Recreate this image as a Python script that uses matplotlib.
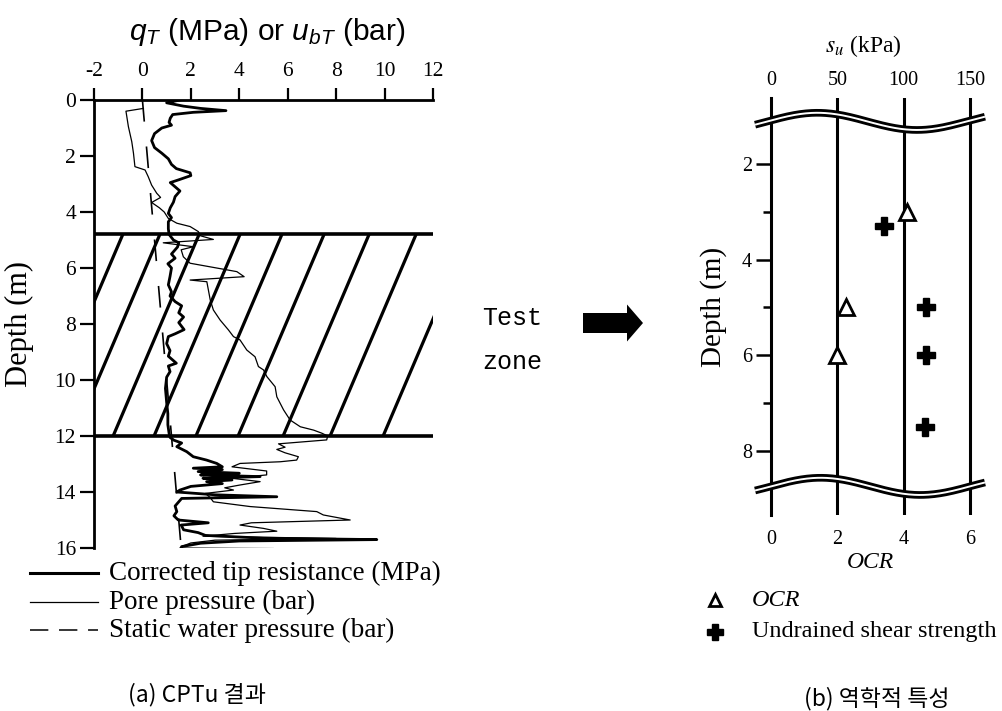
import numpy as np
import matplotlib
matplotlib.use("Agg")
import matplotlib.pyplot as plt
from matplotlib.lines import Line2D
from matplotlib.patches import Rectangle, FancyArrow

plt.rcParams['font.family'] = ['Liberation Serif', 'DejaVu Sans']
plt.rcParams['axes.unicode_minus'] = False
plt.rcParams['mathtext.fontset'] = 'custom'
plt.rcParams['mathtext.rm'] = 'Liberation Sans'
plt.rcParams['mathtext.it'] = 'Liberation Sans:italic'
plt.rcParams['mathtext.bf'] = 'Liberation Sans:bold'

# ---------------- CPTu profile ----------------
qt_depth = [0.00, 0.10, 0.22, 0.30, 0.38, 0.44, 0.52, 0.65, 0.80, 0.90,
            1.00, 1.20, 1.45, 1.70, 1.90, 2.10, 2.30, 2.45, 2.60, 2.70,
            2.85, 2.95, 3.10, 3.25, 3.45, 3.65, 3.85, 4.05, 4.20, 4.35,
            4.60, 4.80, 5.00, 5.10, 5.25, 5.50, 5.65, 5.85, 6.00, 6.30,
            6.60, 6.85, 7.00, 7.20, 7.35, 7.60, 7.75, 7.95, 8.20, 8.35,
            8.45, 8.70, 8.95, 9.15, 9.40, 9.50, 9.70, 9.90, 10.30, 10.80,
            11.20, 11.60, 11.90, 12.05, 12.15, 12.25, 12.38, 12.56, 12.74, 12.86,
            12.98, 13.10, 13.15, 13.20, 13.27, 13.33, 13.39, 13.45, 13.51, 13.57,
            13.63, 13.70, 13.80, 13.93, 14.00, 14.10, 14.17, 14.23, 14.35, 14.50,
            14.70, 14.85, 15.00, 15.10, 15.18, 15.35, 15.45, 15.55, 15.65, 15.70,
            15.75, 15.83, 15.95, 16.00]
qt_mpa = [1.55, 1.00, 1.70, 2.40, 3.45, 2.10, 1.25, 1.15, 1.10, 1.20,
          0.80, 0.50, 0.38, 0.50, 0.80, 1.07, 1.20, 1.40, 1.97, 2.00,
          1.50, 1.15, 1.35, 1.55, 1.35, 1.28, 1.15, 1.07, 1.20, 1.07,
          1.07, 1.10, 1.28, 1.50, 1.45, 1.20, 1.35, 1.05, 1.20, 1.14,
          1.07, 1.20, 1.14, 1.35, 1.62, 1.50, 1.70, 1.50, 1.72, 1.35,
          1.07, 1.00, 1.14, 1.07, 1.40, 1.07, 1.14, 1.00, 0.95, 1.00,
          1.05, 1.05, 1.10, 1.14, 1.30, 1.62, 1.42, 1.83, 2.10, 2.65,
          3.07, 3.30, 2.10, 3.30, 2.30, 4.00, 2.40, 4.86, 2.50, 3.70,
          2.65, 3.30, 2.00, 1.55, 1.42, 3.00, 5.55, 1.62, 1.50, 1.35,
          1.42, 1.30, 1.48, 2.72, 1.60, 1.70, 2.30, 2.60, 5.00, 9.68,
          4.00, 2.40, 1.62, 1.60]

u_depth = [0.30, 0.40, 0.95, 1.49, 1.90, 2.38, 2.50, 2.74, 3.04, 3.33,
           3.48, 3.66, 3.85, 4.00, 4.23, 4.40, 4.52, 4.70, 4.85, 4.98,
           5.10, 5.24, 5.35, 5.60, 5.83, 6.13, 6.31, 6.43, 6.49, 7.14,
           7.50, 7.86, 8.21, 8.45, 8.57, 8.93, 9.17, 9.52, 9.64, 9.88,
           10.24, 10.60, 11.07, 11.43, 11.67, 11.79, 11.90, 12.00, 12.14, 12.28,
           12.40, 12.48, 12.60, 12.74, 12.86, 12.92, 12.98, 13.10, 13.25, 13.39,
           13.51, 13.63, 13.75, 13.85, 13.93, 14.05, 14.20, 14.35, 14.52, 14.70,
           14.82, 15.00, 15.10, 15.18, 15.30, 15.40, 15.48, 15.58, 15.66, 15.72,
           15.82, 15.92, 16.00, 16.02]
u_bar = [0.04, -0.68, -0.58, -0.44, -0.37, -0.31, 0.11, 0.24, 0.38, 0.59,
         0.75, 0.38, 0.70, 0.90, 1.07, 1.42, 1.97, 2.31, 2.40, 2.93,
         0.86, 2.10, 1.60, 1.69, 1.97, 3.90, 4.20, 1.97, 2.66, 2.80,
         2.93, 3.21, 3.55, 3.76, 4.03, 4.31, 4.65, 4.79, 5.00, 5.14,
         5.48, 5.55, 5.83, 6.10, 6.52, 7.07, 7.41, 7.65, 7.61, 5.62,
         5.89, 5.55, 5.89, 6.44, 6.37, 5.69, 4.03, 3.70, 5.13, 5.13,
         3.69, 4.86, 4.03, 3.40, 3.76, 2.60, 2.80, 2.93, 4.45, 7.20,
         7.47, 8.58, 4.50, 4.03, 5.00, 5.55, 3.80, 2.50, 8.00, 3.00,
         2.00, 1.70, 1.55, 5.40]

u0_depth = [0.0, 16.0]
u0_bar = [0.0, 1.6]

test_zone = [4.8, 12.0]
hatch_x0 = [-4.36, -2.83, -1.21, 0.48, 2.21, 3.95, 5.81, 7.75, 9.94]

# ---------------- laboratory results ----------------
ocr_depth = [3.0, 5.0, 6.0]
ocr_values = [4.1, 2.25, 2.0]
su_depth = [3.3, 5.0, 6.0, 7.5]
su_kpa = [85, 117, 117, 116]

W, H = 1002, 711
fig = plt.figure(figsize=(W / 100, H / 100), dpi=100)


def fx(px):
    return px / W


def fy(py):
    return 1 - py / H


# ================= (a) CPTu =================
ax = fig.add_axes([fx(94), fy(548), fx(433) - fx(94), fy(100) - fy(548)])
ax.set_xlim(-2, 12)
ax.set_ylim(16, 0)
for s in ('right', 'bottom'):
    ax.spines[s].set_visible(False)
for s in ('top', 'left'):
    ax.spines[s].set_linewidth(2.0)
ax.xaxis.tick_top()
ax.set_xticks(np.arange(-2, 13, 2))
ax.set_yticks(np.arange(0, 17, 2))
ax.tick_params(axis='x', direction='out', length=8.5, width=1.6, pad=5, labelsize=15.5)
ax.tick_params(axis='y', direction='out', length=10, width=1.6, pad=3, labelsize=15.5)
ax.set_ylabel('Depth (m)', fontsize=22)
ax.yaxis.set_label_coords(-0.178, 0.5)

# test zone boundaries and hatching
for d in test_zone:
    ax.plot([-2, 12], [d, d], color='black', lw=2.6, solid_capstyle='butt', zorder=3)
zone_rect = Rectangle((-2, test_zone[0]), 14, test_zone[1] - test_zone[0],
                      transform=ax.transData)
for b in hatch_x0:
    ln, = ax.plot([b, b + 3.55], [test_zone[1], test_zone[0]], color='black', lw=2.3,
                  solid_capstyle='butt', zorder=2)
    ln.set_clip_path(zone_rect)

ax.plot(u0_bar, u0_depth, color='black', lw=1.2, dashes=(13, 15), zorder=4)
ax.plot(u_bar, u_depth, color='black', lw=0.9, zorder=4)
ax.plot(qt_mpa, qt_depth, color='black', lw=2.0, zorder=5)

fig.text(fx(267), fy(32), r'$q_T$ (MPa) or $u_{bT}$ (bar)', fontfamily='Liberation Sans',
         fontsize=21.5, ha='center', va='center', math_fontfamily='custom')

# legend of panel (a)
leg_rows = [(573, 2.2, None, 'Corrected tip resistance (MPa)'),
            (602, 0.9, None, 'Pore pressure (bar)'),
            (630, 1.1, (12, 7), 'Static water pressure (bar)')]
for py, lw, dash, label in leg_rows:
    line = Line2D([fx(30), fx(98)], [fy(py), fy(py)], transform=fig.transFigure,
                  color='black', lw=lw)
    if dash:
        line.set_dashes(dash)
    fig.add_artist(line)
    fig.text(fx(109), fy(py), label, fontsize=19.5, va='center', ha='left')

fig.text(fx(197), fy(695), '(a) CPTu 결과', fontfamily=['Noto Sans CJK KR', 'DejaVu Sans'],
         fontsize=16.5, ha='center', va='center')

# ================= arrow =================
fig.text(fx(482), fy(318), 'Test', fontfamily='Liberation Mono', fontsize=18,
         ha='left', va='center')
fig.text(fx(482), fy(362), 'zone', fontfamily='Liberation Mono', fontsize=18,
         ha='left', va='center')
arrow = FancyArrow(fx(583), fy(323), fx(60), 0, width=20 / H, head_width=37 / H,
                   head_length=fx(16), length_includes_head=True,
                   transform=fig.transFigure, color='black', lw=0)
fig.add_artist(arrow)

# ================= (b) lab properties =================
bx = fig.add_axes([fx(754.4), fy(515), fx(986.6) - fx(754.4), fy(98) - fy(515)])
bx.set_xlim(-0.5, 6.5)
bx.set_ylim(9.35, 0.61)
for s in ('right', 'bottom', 'top'):
    bx.spines[s].set_visible(False)
bx.spines['left'].set_position(('data', 0))
bx.spines['left'].set_linewidth(2.2)
for xv in (2, 4, 6):
    bx.axvline(xv, color='black', lw=2.2, zorder=1)

bx.set_yticks([2, 4, 6, 8])
bx.set_yticks([3, 5, 7], minor=True)
bx.tick_params(axis='y', which='major', direction='out', length=11, width=1.8, pad=2.5,
               labelsize=14.5)
bx.tick_params(axis='y', which='minor', direction='out', length=5.5, width=1.8)
bx.set_xticks([0, 2, 4, 6])
bx.tick_params(axis='x', length=0, pad=11, labelsize=14.5)
bx.set_ylabel('Depth (m)', fontsize=21)
bx.yaxis.set_label_coords(-0.118, 0.5)

su_scale = 25.0
top = bx.secondary_xaxis('top', functions=(lambda v: v * su_scale, lambda v: v / su_scale))
top.set_xticks([0, 50, 100, 150])
top.tick_params(length=0, pad=6, labelsize=14.5)
top.spines['top'].set_visible(False)

bx.text(0.5, -0.113, 'OCR', transform=bx.transAxes, fontsize=17, fontstyle='italic',
        ha='center', va='center')
fig.text(fx(863), fy(46), r'$s_u$ (kPa)', math_fontfamily='stix', fontsize=17,
         ha='center', va='center')

# axis breaks
wx = np.linspace(-0.48, 6.45, 200)
for c, ph in ((1.1, 1.4), (8.75, 1.5)):
    wy = c - 0.18 * np.cos(2 * np.pi * (wx - ph) / 6.0)
    bx.plot(wx, wy, color='black', lw=5.5, solid_capstyle='butt', zorder=6, clip_on=False)
    bx.plot(wx, wy, color='white', lw=1.4, solid_capstyle='butt', zorder=7, clip_on=False)

bx.plot(ocr_values, ocr_depth, linestyle='none', marker='^', ms=11, mfc='white',
        mec='black', mew=2.0, zorder=8)
bx.plot(np.array(su_kpa) / su_scale, su_depth, linestyle='none', marker='P', ms=13,
        color='black', mec='black', zorder=8)

# legend of panel (b)
fig.add_artist(Line2D([fx(715)], [fy(600)], transform=fig.transFigure, marker='^', ms=9,
                      mfc='white', mec='black', mew=2.0, linestyle='none'))
fig.add_artist(Line2D([fx(715)], [fy(632)], transform=fig.transFigure, marker='P', ms=12,
                      color='black', linestyle='none'))
fig.text(fx(752), fy(600), 'OCR', fontsize=17.5, fontstyle='italic', va='center', ha='left')
fig.text(fx(752), fy(632), 'Undrained shear strength', fontsize=17.5, va='center', ha='left')

fig.text(fx(877), fy(699), '(b) 역학적 특성', fontfamily=['Noto Sans CJK KR', 'DejaVu Sans'],
         fontsize=16.5, ha='center', va='center')

fig.savefig('out.png', dpi=100)
